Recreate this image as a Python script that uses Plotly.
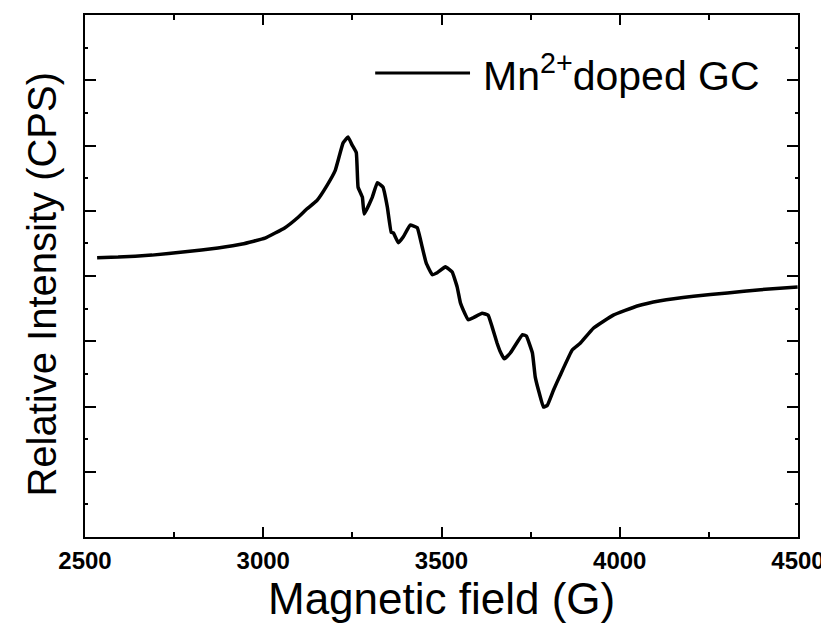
import plotly.graph_objects as go

field_G = [2534, 2593, 2688, 2781, 2873, 2941, 3005, 3061, 3098, 3123, 3151, 3179, 3202,
           3224, 3238, 3249, 3261, 3266, 3278, 3283, 3306, 3320, 3336, 3348, 3359, 3365,
           3379, 3393, 3412, 3432, 3446, 3457, 3474, 3488, 3511, 3530, 3544, 3553, 3561,
           3575, 3589, 3614, 3631, 3642, 3656, 3665, 3676, 3693, 3727, 3738, 3755, 3763,
           3774, 3786, 3797, 3814, 3833, 3867, 3889, 3926, 3982, 4049, 4114, 4207, 4302,
           4395, 4499]
intensity = [4.28, 4.29, 4.32, 4.37, 4.43, 4.49, 4.58, 4.74, 4.90, 5.03, 5.16, 5.39, 5.62,
             6.04, 6.13, 6.01, 5.89, 5.36, 5.21, 4.95, 5.21, 5.43, 5.36, 5.06, 4.67, 4.66,
             4.51, 4.60, 4.78, 4.74, 4.44, 4.20, 4.02, 4.05, 4.14, 4.06, 3.83, 3.59, 3.48,
             3.33, 3.36, 3.43, 3.40, 3.22, 2.97, 2.84, 2.73, 2.82, 3.10, 3.08, 2.82, 2.45,
             2.21, 1.99, 2.02, 2.25, 2.48, 2.87, 2.97, 3.20, 3.40, 3.54, 3.62, 3.69, 3.74,
             3.79, 3.83]
x_ticks = [2500, 3000, 3500, 4000, 4500]
legend_label = "Mn<sup>2+</sup>doped GC"

FONT = "Liberation Sans, Arial, sans-serif"

fig = go.Figure()
fig.add_trace(go.Scatter(x=field_G, y=intensity, mode="lines",
                         line=dict(color="black", width=3.5, shape="spline", smoothing=0.3),
                         showlegend=False))

# page has an 8px body margin: figure 821x621 reaches the right edge of the 829x637 window
fig.update_layout(
    width=821, height=621,
    margin=dict(l=77, r=31, t=7, b=92, autoexpand=False),
    plot_bgcolor="white", paper_bgcolor="white",
    font=dict(family=FONT, color="black"),
    xaxis=dict(range=[2500, 4500], tickvals=x_ticks, ticks="inside", ticklen=10, tickwidth=1.5,
               tickcolor="black", showline=True, linecolor="black", linewidth=2,
               mirror="allticks", showgrid=False, zeroline=False, ticklabelstandoff=1,
               ticklabeloverflow="allow", automargin=False,
               tickfont=dict(family=FONT, size=24, color="black", weight="bold"),
               minor=dict(ticks="inside", ticklen=5, tickwidth=1.5, dtick=250, tickcolor="black", showgrid=False)),
    yaxis=dict(range=[0, 8], dtick=1, ticks="inside", ticklen=11, tickwidth=1.5,
               tickcolor="black", showline=True, linecolor="black", linewidth=2,
               mirror="allticks", showgrid=False, zeroline=False, showticklabels=False,
               automargin=False,
               minor=dict(ticks="inside", ticklen=3, tickwidth=1.5, dtick=0.5, tickcolor="black", showgrid=False)),
)

fig.add_annotation(text="Magnetic field (G)", xref="paper", yref="paper", x=0.5, y=-0.117,
                   xanchor="center", yanchor="middle", showarrow=False,
                   font=dict(family=FONT, size=44, color="black"))
fig.add_annotation(text="Relative Intensity (CPS)", xref="paper", yref="paper", x=-0.06, y=0.484,
                   xanchor="center", yanchor="middle", showarrow=False, textangle=-90,
                   font=dict(family=FONT, size=40, color="black"))

fig.add_shape(type="line", xref="paper", yref="paper", x0=0.407, x1=0.540, y0=0.889, y1=0.889,
              line=dict(color="black", width=3))
fig.add_annotation(text=legend_label, xref="paper", yref="paper", x=0.556, y=0.889,
                   xanchor="left", yanchor="middle", showarrow=False,
                   font=dict(family=FONT, size=41, color="black"))

fig.write_html("out.html", config={"displayModeBar": False})
